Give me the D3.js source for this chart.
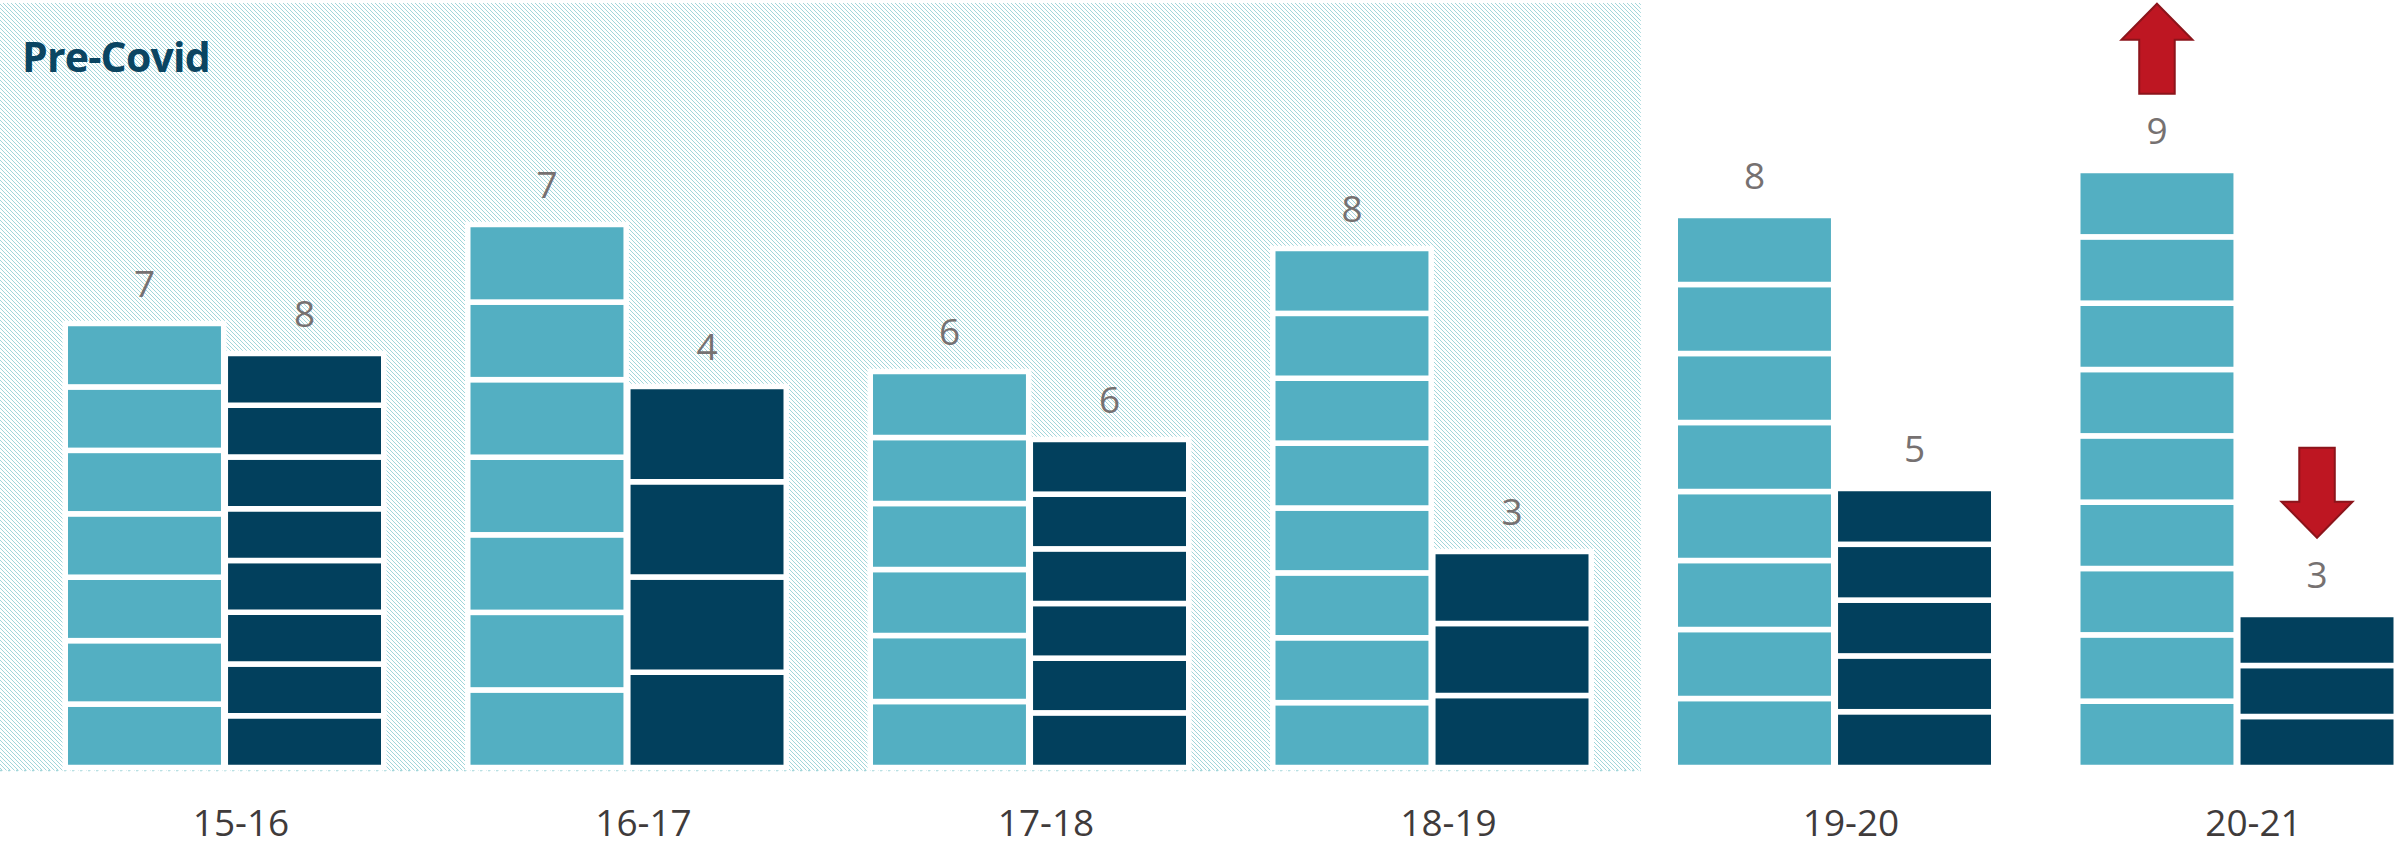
<!DOCTYPE html>
<html>
<head>
<meta charset="utf-8">
<script src="https://cdnjs.cloudflare.com/ajax/libs/d3/7.8.5/d3.min.js"></script>
<style>
	body { margin: 0; background: #ffffff; }
	svg { display: block; font-family: "Open Sans", sans-serif; }
</style>
</head>
<body>
<svg class="chart"></svg>
<script>
	var categories = ["15-16", "16-17", "17-18", "18-19", "19-20", "20-21"];
	var series = ["light", "dark"];
	// bar heights (arbitrary units)
	var lightValues = [44.4, 54.3, 39.6, 51.9, 55.2, 59.7];
	var darkValues = [41.4, 38.1, 32.8, 21.6, 27.9, 15.3];
	// number of blocks in each bar, also printed above it
	var lightCounts = [7, 7, 6, 8, 8, 9];
	var darkCounts = [8, 4, 6, 3, 5, 3];
	var preCovid = ["15-16", "16-17", "17-18", "18-19"];
	var arrows = [
		{category: "20-21", series: "light", dir: "up"},
		{category: "20-21", series: "dark", dir: "down"}
	];

	const colors = {
		light: "#53afc2",
		dark: "#02405d",
		hatch: "#a2d6da",
		value: "#767171",
		axis: "#3f3b3b",
		title: "#0b4562",
		arrow: "#be1622",
		arrowEdge: "#8c141b"
	};

	var width = 2400;
	var height = 846;

	var svg = d3.select(".chart")
		.attr("width", width)
		.attr("height", height);

	var data = categories.map((c, i) => ({
		category: c,
		light: {value: lightValues[i], count: lightCounts[i]},
		dark: {value: darkValues[i], count: darkCounts[i]}
	}));

	var x0 = d3.scaleBand()
		.domain(categories)
		.range([23.25, 2438.25])
		.paddingInner(0.2087)
		.paddingOuter(0.2087 / 2);

	var x1 = d3.scaleBand()
		.domain(series)
		.range([0, x0.bandwidth()])
		.paddingInner(0.01);

	var y = d3.scaleLinear()
		.domain([0, 100])
		.range([767.5, -232.5]);

	var gap = 5.5;

	// hatched "Pre-Covid" background
	var defs = svg.append("defs");
	var pat = defs.append("pattern")
		.attr("id", "hatch")
		.attr("patternUnits", "userSpaceOnUse")
		.attr("width", 4)
		.attr("height", 4);
	pat.selectAll("rect")
		.data(d3.range(4))
		.enter()
		.append("rect")
		.attr("x", (d) => d)
		.attr("y", (d) => d)
		.attr("width", 1)
		.attr("height", 1)
		.attr("fill", colors.hatch);

	var hatchRight = x0(preCovid[preCovid.length - 1]) + x0.bandwidth() + (x0.step() - x0.bandwidth()) * 0.59;
	svg.append("rect")
		.attr("x", 0)
		.attr("y", 3)
		.attr("width", hatchRight)
		.attr("height", y(0))
		.attr("fill", "url(#hatch)");

	svg.append("line")
		.attr("x1", 0)
		.attr("x2", hatchRight)
		.attr("y1", y(0) + 3)
		.attr("y2", y(0) + 3)
		.attr("stroke", colors.hatch)
		.attr("stroke-width", 1.5)
		.attr("stroke-dasharray", "2,6");

	svg.append("text")
		.attr("x", 22)
		.attr("y", 72)
		.attr("fill", colors.title)
		.attr("font-size", 41)
		.attr("font-weight", 700)
		.attr("letter-spacing", -0.8)
		.text("Pre-Covid");

	//bars, each split into `count` equal blocks
	var groups = svg.selectAll(".group")
		.data(data)
		.enter()
		.append("g")
		.attr("class", "group")
		.attr("transform", (d) => "translate(" + x0(d.category) + ",0)");

	var bars = groups.selectAll(".bar")
		.data((d) => series.map((s) => ({key: s, value: d[s].value, count: d[s].count})))
		.enter()
		.append("g")
		.attr("class", "bar");

	bars.selectAll("rect")
		.data((d) => d3.range(d.count).map((i) => ({key: d.key, value: d.value, count: d.count, i: i})))
		.enter()
		.append("rect")
		.attr("x", (d) => x1(d.key))
		.attr("width", x1.bandwidth())
		.attr("y", (d) => y(0) - (y(0) - y(d.value)) * (d.i + 1) / d.count)
		.attr("height", (d) => (y(0) - y(d.value)) / d.count)
		.attr("fill", (d) => colors[d.key])
		.attr("stroke", "#ffffff")
		.attr("stroke-width", gap);

	bars.append("text")
		.attr("x", (d) => x1(d.key) + x1.bandwidth() / 2)
		.attr("y", (d) => y(d.value) - gap / 2 - 24)
		.attr("text-anchor", "middle")
		.attr("fill", colors.value)
		.attr("font-size", 37)
		.text((d) => d.count);

	// category axis
	var axis = svg.append("g")
		.attr("transform", "translate(0," + y(0) + ")")
		.call(d3.axisBottom(x0).tickSize(0));
	axis.select(".domain").remove();
	axis.selectAll("text")
		.attr("y", 68.5)
		.attr("dy", 0)
		.attr("dx", 16.5)
		.attr("fill", colors.axis)
		.attr("font-size", 37)
		.attr("font-family", "Open Sans, sans-serif");

	// red arrows above the 20-21 bars
	var headH = 36, headW = 35.5, shaftW = 17.75, arrowH = 90;
	svg.selectAll(".arrow")
		.data(arrows)
		.enter()
		.append("path")
		.attr("class", "arrow")
		.attr("d", (a) => {
			var i = categories.indexOf(a.category);
			var v = a.series == "light" ? lightValues[i] : darkValues[i];
			var cx = x0(a.category) + x1(a.series) + x1.bandwidth() / 2;
			var labelTop = y(v) - gap / 2 - 24 - 27;
			var bottom = labelTop - 23;
			var top = bottom - arrowH;
			if (a.dir == "up") {
				return "M" + cx + "," + top +
					"L" + (cx + headW) + "," + (top + headH) +
					"L" + (cx + shaftW) + "," + (top + headH) +
					"L" + (cx + shaftW) + "," + bottom +
					"L" + (cx - shaftW) + "," + bottom +
					"L" + (cx - shaftW) + "," + (top + headH) +
					"L" + (cx - headW) + "," + (top + headH) + "Z";
			}
			return "M" + cx + "," + bottom +
				"L" + (cx + headW) + "," + (bottom - headH) +
				"L" + (cx + shaftW) + "," + (bottom - headH) +
				"L" + (cx + shaftW) + "," + top +
				"L" + (cx - shaftW) + "," + top +
				"L" + (cx - shaftW) + "," + (bottom - headH) +
				"L" + (cx - headW) + "," + (bottom - headH) + "Z";
		})
		.attr("fill", colors.arrow)
		.attr("stroke", colors.arrowEdge)
		.attr("stroke-width", 2);
</script>
</body>
</html>
